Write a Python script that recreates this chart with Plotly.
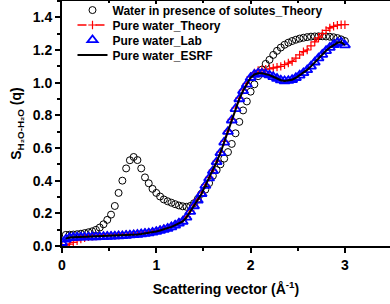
import plotly.graph_objects as go

# ---- data ----
q = [round(0.04 * i, 2) for i in range(76)]  # scattering vector grid 0.00 .. 3.00

solutes_theory = [None,
    0.068, 0.069, 0.070, 0.072, 0.075, 0.079, 0.084, 0.090, 0.099, 0.113,
    0.133, 0.160, 0.192, 0.245, 0.325, 0.400, 0.475, 0.525, 0.545, 0.526,
    0.475, 0.420, 0.384, 0.350, 0.325, 0.303, 0.285, 0.274, 0.265, 0.256,
    0.248, 0.243, 0.240, 0.245, 0.262, 0.288, 0.320, 0.345, 0.385, 0.430,
    0.465, 0.500, 0.535, 0.575, 0.625, 0.690, 0.760, 0.830, 0.885, 0.945,
    0.990, 1.040, 1.080, 1.115, 1.140, 1.170, 1.195, 1.215, 1.232, 1.245,
    1.255, 1.263, 1.270, 1.275, 1.279, 1.282, 1.283, 1.284, 1.284, 1.283,
    1.281, 1.278, 1.273, 1.265, 1.255]

pure_theory = [0.000,
    0.005, 0.012, 0.022, 0.032, 0.042, 0.050, 0.056, 0.060, 0.061, 0.062,
    0.063, 0.064, 0.065, 0.066, 0.067, 0.068, 0.070, 0.072, 0.074, 0.076,
    0.079, 0.082, 0.085, 0.089, 0.094, 0.100, 0.106, 0.113, 0.122, 0.133,
    0.145, 0.160, 0.180, 0.215, 0.250, 0.285, 0.325, 0.375, 0.420, 0.465,
    0.520, 0.575, 0.640, 0.705, 0.775, 0.845, 0.905, 0.955, 0.995, 1.035,
    1.060, 1.075, 1.080, 1.082, 1.085, 1.090, 1.095, 1.100, 1.110, 1.120,
    1.130, 1.150, 1.170, 1.190, 1.200, 1.225, 1.250, 1.275, 1.300, 1.320,
    1.335, 1.345, 1.352, 1.355, 1.355]

pure_lab = [0.020,
    0.040, 0.050, 0.052, 0.053, 0.053, 0.054, 0.054, 0.055, 0.055, 0.056,
    0.057, 0.058, 0.059, 0.060, 0.061, 0.062, 0.064, 0.066, 0.068, 0.070,
    0.073, 0.076, 0.079, 0.083, 0.088, 0.094, 0.100, 0.107, 0.116, 0.127,
    0.139, 0.150, 0.175, 0.210, 0.245, 0.280, 0.320, 0.370, 0.415, 0.460,
    0.515, 0.570, 0.635, 0.700, 0.770, 0.840, 0.900, 0.950, 0.990, 1.030,
    1.050, 1.058, 1.057, 1.053, 1.046, 1.036, 1.025, 1.015, 1.010, 1.012,
    1.018, 1.030, 1.045, 1.060, 1.078, 1.100, 1.125, 1.150, 1.172, 1.195,
    1.215, 1.232, 1.244, 1.247, 1.230]

pure_esrf = [None,
    0.045, 0.052, 0.053, 0.054, 0.054, 0.055, 0.055, 0.056, 0.056, 0.057,
    0.058, 0.059, 0.060, 0.061, 0.062, 0.063, 0.065, 0.067, 0.069, 0.071,
    0.074, 0.077, 0.080, 0.084, 0.089, 0.095, 0.101, 0.108, 0.117, 0.128,
    0.140, 0.150, 0.175, 0.210, 0.245, 0.280, 0.320, 0.370, 0.415, 0.460,
    0.515, 0.570, 0.635, 0.700, 0.770, 0.840, 0.900, 0.950, 0.990, 1.030,
    1.050, 1.058, 1.057, 1.053, 1.046, 1.036, 1.025, 1.015, 1.010, 1.012,
    1.018, 1.030, 1.045, 1.060, 1.078, 1.100, 1.125, 1.150, 1.172, 1.195,
    1.215, 1.232, 1.244, 1.247, 1.230]

series_names = ["Water in presence of solutes_Theory", "Pure water_Theory",
                "Pure water_Lab", "Pure water_ESRF"]
x_ticks = [0, 1, 2, 3]
y_ticks = [0.0, 0.2, 0.4, 0.6, 0.8, 1.0, 1.2, 1.4]

FONT = "Liberation Sans, Arial, sans-serif"

fig = go.Figure()
fig.add_trace(go.Scatter(
    x=q, y=solutes_theory, name=series_names[0], mode="markers",
    marker=dict(symbol="circle-open", size=7, color="black", line=dict(width=1, color="black")),
    legend="legend"))
fig.add_trace(go.Scatter(
    x=q, y=pure_theory, name=series_names[1], mode="lines+markers",
    line=dict(color="red", width=1.5, dash="dash"),
    marker=dict(symbol="cross-thin-open", size=6, color="red", line=dict(width=1.2, color="red")),
    legend="legend2"))
fig.add_trace(go.Scatter(
    x=q, y=pure_lab, name=series_names[2], mode="markers",
    marker=dict(symbol="triangle-up-open", size=9, color="blue", line=dict(width=1.8, color="blue")),
    legend="legend3"))
fig.add_trace(go.Scatter(
    x=q, y=pure_esrf, name=series_names[3], mode="lines",
    line=dict(color="black", width=2),
    legend="legend4"))
# invisible trace to carry the top (mirror) axis with inward ticks
fig.add_trace(go.Scatter(x=[q[0]], y=[None], xaxis="x2", showlegend=False, hoverinfo="skip"))

leg_common = dict(x=0.032, xanchor="left", yanchor="middle", bgcolor="rgba(0,0,0,0)",
                  font=dict(family=FONT, size=12, color="black", weight="bold"),
                  borderwidth=0, tracegroupgap=0)
fig.update_layout(
    width=390, height=304,
    margin=dict(l=62, r=0, t=1, b=58, autoexpand=False),
    paper_bgcolor="white", plot_bgcolor="white",
    font=dict(family=FONT, color="black"),
    legend=dict(y=0.963, **leg_common),
    legend2=dict(y=0.902, **leg_common),
    legend3=dict(y=0.841, **leg_common),
    legend4=dict(y=0.780, **leg_common),
    xaxis=dict(
        range=[0, 3.478], tickvals=x_ticks, ticktext=[str(v) for v in x_ticks],
        ticks="outside", ticklen=5, tickwidth=1.5, tickcolor="black",
        minor=dict(dtick=0.5, ticks="outside", ticklen=3, tickwidth=1.5, tickcolor="black"),
        showline=True, linewidth=2, linecolor="black", mirror=True,
        showgrid=False, zeroline=False, automargin=False,
        tickfont=dict(family=FONT, size=14, color="black", weight="bold"),
        title=dict(text="Scattering vector (Å<sup>-1</sup>)", standoff=12,
                   font=dict(family=FONT, size=14, color="black", weight="bold")),
    ),
    xaxis2=dict(
        overlaying="x", side="top", matches="x", range=[0, 3.478],
        tickvals=x_ticks, showticklabels=False, automargin=False,
        ticks="inside", ticklen=3, tickwidth=1.5, tickcolor="black",
        minor=dict(dtick=0.5, ticks="inside", ticklen=2, tickwidth=1.5, tickcolor="black"),
        showline=False, showgrid=False, zeroline=False,
    ),
    yaxis=dict(
        range=[0, 1.5], tickvals=y_ticks, ticktext=[f"{v:.1f}" for v in y_ticks],
        ticks="outside", ticklen=5, tickwidth=1.5, tickcolor="black",
        minor=dict(dtick=0.1, ticks="outside", ticklen=3, tickwidth=1.5, tickcolor="black"),
        showline=True, linewidth=2, linecolor="black", mirror=False,
        showgrid=False, zeroline=False, automargin=False,
        tickfont=dict(family=FONT, size=14, color="black", weight="bold"),
        title=dict(text="S<sub>H₂O-H₂O</sub> (q)", standoff=8,
                   font=dict(family=FONT, size=14, color="black", weight="bold")),
    ),
)

fig.write_html("out.html", config={"displayModeBar": False},
               post_script="document.body.style.margin='0px';")
